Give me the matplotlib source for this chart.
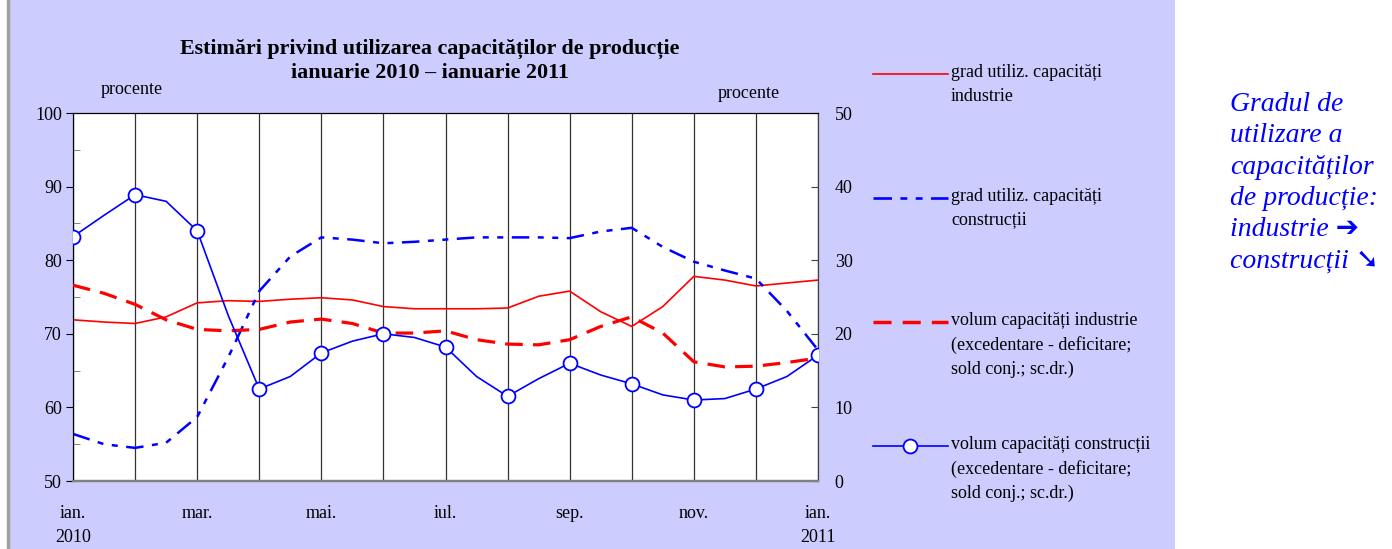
import matplotlib
matplotlib.use('Agg')
import matplotlib.pyplot as plt
from matplotlib.lines import Line2D
from matplotlib.patches import Rectangle
import numpy as np

# values read at every half month, ian. 2010 .. ian. 2011
steps = np.arange(25) / 2.0
month_ticks = [0, 2, 4, 6, 8, 10, 12]
month_labels = ['ian.\n2010', 'mar.', 'mai.', 'iul.', 'sep.', 'nov.', 'ian.\n2011']

grad_industrie = [71.9, 71.6, 71.4, 72.3, 74.2, 74.5, 74.4, 74.7, 74.9, 74.6, 73.7, 73.4, 73.4,
                  73.4, 73.5, 75.1, 75.8, 73.0, 71.0, 73.7, 77.8, 77.3, 76.5, 76.9, 77.3]
grad_constructii = [56.4, 55.0, 54.5, 55.2, 58.7, 66.8, 75.8, 80.5, 83.1, 82.8, 82.3, 82.5, 82.8,
                    83.1, 83.1, 83.1, 83.0, 83.9, 84.4, 81.8, 79.8, 78.6, 77.5, 73.1, 67.8]
volum_industrie = [26.6, 25.5, 24.0, 21.9, 20.6, 20.4, 20.6, 21.6, 22.0, 21.4, 20.1, 20.1, 20.4,
                   19.2, 18.6, 18.5, 19.2, 21.0, 22.3, 20.1, 16.2, 15.5, 15.6, 16.1, 16.7]
volum_constructii = [33.2, 36.1, 38.9, 38.0, 34.0, 22.5, 12.5, 14.2, 17.4, 19.0, 20.0, 19.5, 18.2,
                     14.2, 11.5, 13.9, 16.0, 14.4, 13.2, 11.7, 11.0, 11.2, 12.5, 14.2, 17.1]

legend_labels = ['grad utiliz. capacități\nindustrie',
                 'grad utiliz. capacități\nconstrucții',
                 'volum capacități industrie\n(excedentare - deficitare;\nsold conj.; sc.dr.)',
                 'volum capacități construcții\n(excedentare - deficitare;\nsold conj.; sc.dr.)']

plt.rcParams['font.family'] = ['Liberation Serif', 'DejaVu Serif', 'DejaVu Sans']
plt.rcParams['font.size'] = 13

W, H = 1392, 549
fig = plt.figure(figsize=(W / 100, H / 100), dpi=100)
fig.patch.set_facecolor('white')
fig.patches.append(Rectangle((8 / W, 0), (1175 - 8) / W, 1, transform=fig.transFigure,
                             facecolor='#CCCCFF', edgecolor='none', zorder=-10))
fig.add_artist(Line2D([8 / W, 8 / W], [0, 1], color='#A0A0A0', lw=2.5))

ax = fig.add_axes([73 / W, 1 - 481 / H, (818 - 73) / W, (481 - 113) / H])
ax.set_facecolor('white')
ax2 = ax.twinx()

red = '#FF0000'
blue = '#0000FF'
ax.plot(steps, grad_industrie, color=red, lw=1.2, zorder=3)
ax.plot(steps, grad_constructii, color=blue, lw=1.8, dashes=(7, 3.4, 2.4, 3.4, 2.4, 3.4), zorder=3)
ax2.plot(steps, volum_industrie, color=red, lw=2.3, dashes=(5.5, 3.2), zorder=3)
ax2.plot(steps, volum_constructii, color=blue, lw=1.2, marker='o', markersize=10,
         markerfacecolor='white', markeredgecolor=blue, markeredgewidth=1.3,
         markevery=2, zorder=4)

ax.set_xlim(0, 12)
ax.set_ylim(50, 100)
ax2.set_ylim(0, 50)
ax.set_xticks(month_ticks)
ax.set_xticklabels(month_labels, linespacing=1.55, va='top')
ax.set_xticks(range(13), minor=True)
ax.tick_params(axis='x', which='both', length=0, pad=17)
ax.grid(axis='x', which='both', color='#333333', lw=0.9)
ax.set_axisbelow(True)

ax.set_yticks(range(50, 101, 10))
ax.set_yticks(range(55, 100, 10), minor=True)
ax.tick_params(axis='y', which='major', direction='out', length=5, pad=3, color='black')
ax.tick_params(axis='y', which='minor', direction='in', length=5, color='#707070')
ax2.set_yticks(range(0, 51, 10))
ax2.tick_params(axis='y', direction='in', length=5, pad=12, color='#404040')

for a in (ax, ax2):
    a.spines['left'].set_color('black')
    a.spines['top'].set_color('black')
    a.spines['right'].set_color('#404040')
    a.spines['bottom'].set_color('#808080')
    a.spines['bottom'].set_linewidth(1.6)

fig.text(430 / W, 1 - 61 / H,
         'Estimări privind utilizarea capacităților de producție\nianuarie 2010 – ianuarie 2011',
         ha='center', va='center', fontweight='bold', fontsize=15.8, linespacing=1.3)
fig.text(132 / W, 1 - 89 / H, 'procente', ha='center', va='center')
fig.text(749 / W, 1 - 93 / H, 'procente', ha='center', va='center')

# legend drawn beside the plot, handle level with the first text line
legend_y = [74, 198, 322, 446]
handle_styles = [dict(color=red, lw=1.2),
                 dict(color=blue, lw=1.9, dashes=(7, 3.2, 2.6, 3.2, 2.6, 3.2)),
                 dict(color=red, lw=2.5, dashes=(5.2, 3.2)),
                 dict(color=blue, lw=1.2, marker='o', markersize=10, markerfacecolor='white',
                      markeredgecolor=blue, markeredgewidth=1.3, markevery=[1])]
for y, label, style in zip(legend_y, legend_labels, handle_styles):
    fy = 1 - y / H
    fig.add_artist(Line2D([873 / W, 910 / W, 948 / W], [fy, fy, fy], **style))
    fig.text(951 / W, 1 - (y - 10) / H, label, ha='left', va='top', linespacing=1.5)

fig.text(1230 / W, 1 - 92 / H,
         'Gradul de\nutilizare a\ncapacităților\nde producție:\nindustrie ➔\nconstrucții ➘',
         ha='left', va='top', fontsize=20, style='italic', color=blue, linespacing=1.33,
         family=['Liberation Serif', 'DejaVu Sans'])

fig.savefig('out.png', dpi=100)
